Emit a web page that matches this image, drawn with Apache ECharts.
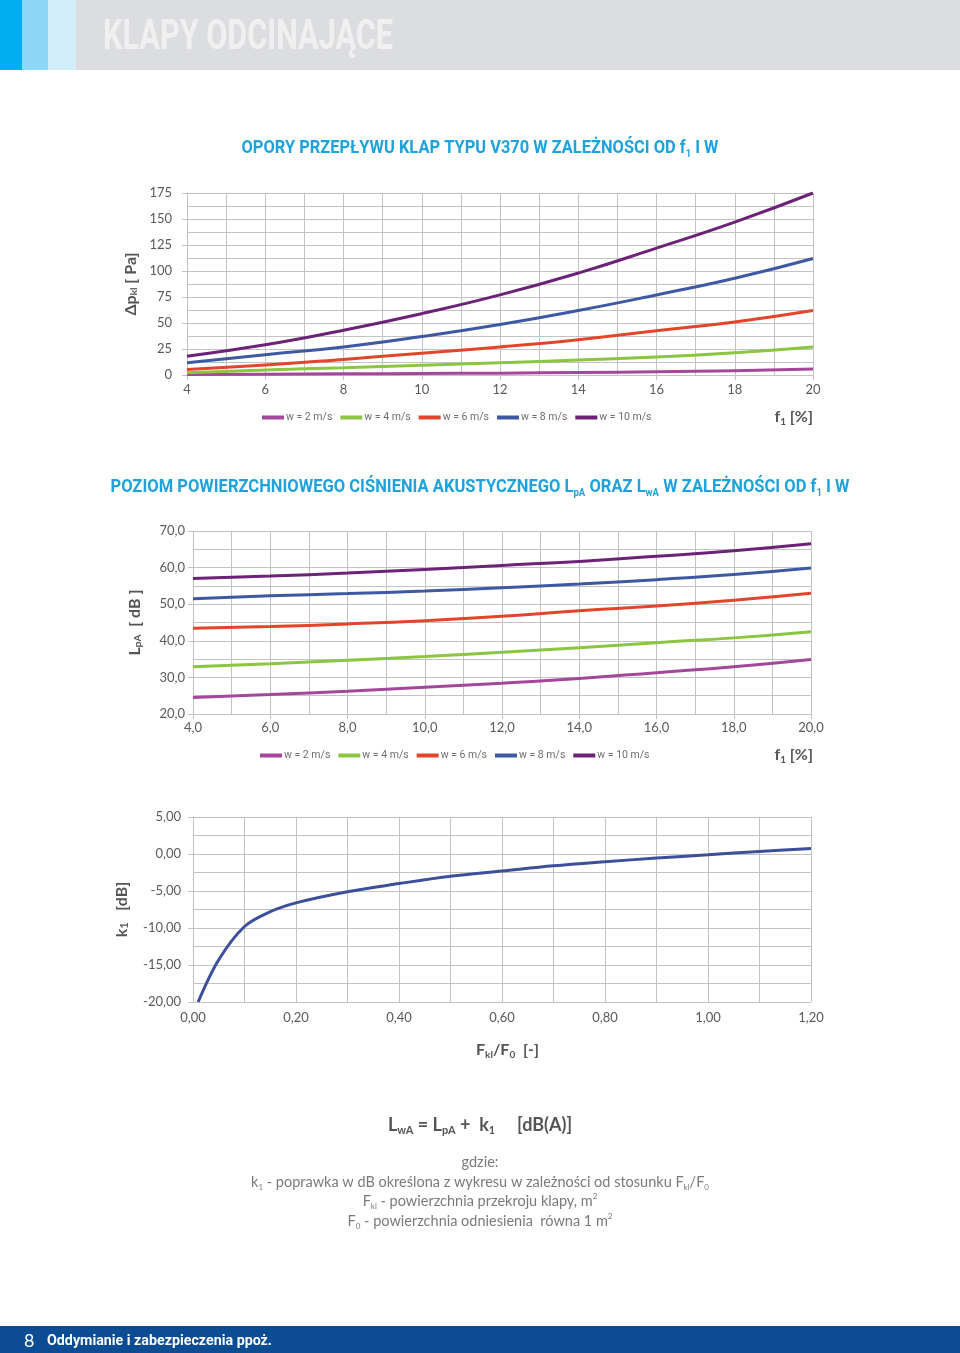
<!DOCTYPE html>
<html>
<head>
<meta charset="utf-8">
<script src="https://cdn.jsdelivr.net/npm/echarts@6/dist/echarts.min.js"></script>
<style>
html,body{margin:0;padding:0;background:#fff;}
#c{width:960px;height:1353px;}
</style>
</head>
<body>
<div id="c"></div>
<script>
// ---------- DATA ----------
var seriesNames = ['w = 2 m/s', 'w = 4 m/s', 'w = 6 m/s', 'w = 8 m/s', 'w = 10 m/s'];
var f1 = [4, 6, 8, 10, 12, 14, 16, 18, 20];

// Chart 1: pressure drop Δp_kl [Pa]
var dp_w2  = [0.6, 0.8, 1.1, 1.4, 1.8, 2.4, 3.1, 4.2, 5.8];
var dp_w4  = [2.2, 4.8, 7.0, 9.3, 11.8, 14.4, 17.2, 21.4, 27.0];
var dp_w6  = [5.4, 9.6, 15.0, 21.0, 27.0, 34.0, 42.5, 51.0, 62.0];
var dp_w8  = [11.8, 19.5, 27.0, 37.0, 48.6, 62.0, 77.0, 93.0, 112.0];
var dp_w10 = [18, 29, 43, 59, 77, 98, 122, 147, 175];

// Chart 2: L_pA [dB]
var lpa_w2  = [24.5, 25.3, 26.2, 27.3, 28.4, 29.7, 31.3, 32.9, 34.9];
var lpa_w4  = [32.9, 33.7, 34.7, 35.7, 36.9, 38.1, 39.5, 40.8, 42.5];
var lpa_w6  = [43.4, 43.9, 44.6, 45.5, 46.7, 48.2, 49.5, 51.1, 53.0];
var lpa_w8  = [51.5, 52.3, 52.9, 53.6, 54.5, 55.5, 56.7, 58.1, 59.9];
var lpa_w10 = [57.0, 57.7, 58.5, 59.5, 60.6, 61.7, 63.1, 64.6, 66.5];

// Chart 3: k1 [dB] vs F_kl/F_0
var ratio = [0.01, 0.05, 0.10, 0.15, 0.20, 0.30, 0.40, 0.50, 0.60, 0.70, 0.80, 0.90, 1.00, 1.10, 1.20];
var k1    = [-20.0, -14.3, -9.8, -7.8, -6.6, -5.1, -4.0, -3.0, -2.3, -1.6, -1.05, -0.55, -0.1, 0.35, 0.75];

var colors = ['#a4479b', '#8cc540', '#e2452a', '#3f58a3', '#6b2277'];

// ---------- HELPERS ----------
function pairs(xs, ys) { return xs.map(function (x, i) { return [x, ys[i]]; }); }
var LBL = '#5a5a5a';
var GRID = '#c3c3c3';
var FONT = 'Lato, "Open Sans", sans-serif';
var CONDF = 'Roboto, "Liberation Sans", sans-serif';
var TITLE_BLUE = '#1ea2dc';

var mctx = document.createElement('canvas').getContext('2d');
function measure(parts) {
  var w = 0;
  parts.forEach(function (p) { mctx.font = p[1]; w += mctx.measureText(p[0]).width; });
  return w;
}

function comma(d) { return function (v) { return v.toFixed(d).replace('.', ','); }; }

function valAxis(idx, min, max, interval, fmt, margin) {
  return {
    type: 'value', gridIndex: idx, min: min, max: max, interval: interval,
    axisLine: { show: true, lineStyle: { color: GRID, width: 1 } },
    axisTick: { show: true, length: 5, lineStyle: { color: GRID } },
    minorTick: { show: false, splitNumber: 2 },
    splitLine: { show: true, lineStyle: { color: GRID, width: 1 } },
    minorSplitLine: { show: true, lineStyle: { color: GRID, width: 1 } },
    axisLabel: { color: LBL, fontFamily: FONT, fontSize: 13, margin: margin, formatter: fmt,
                 showMinLabel: true, showMaxLabel: true }
  };
}

var TS = 19, SS = 11;
var titleFont = 'bold ' + TS + 'px ' + CONDF;
var subFont = 'bold ' + SS + 'px ' + CONDF;
var titleRich = {
  t: { fill: TITLE_BLUE, fontFamily: CONDF, fontWeight: 'bold', fontSize: TS, lineHeight: 24, verticalAlign: 'middle' },
  s: { fill: TITLE_BLUE, fontFamily: CONDF, fontWeight: 'bold', fontSize: SS, lineHeight: 7, verticalAlign: 'bottom' }
};
var title1W = measure([['OPORY PRZEPŁYWU KLAP TYPU V370 W ZALEŻNOŚCI OD f', titleFont], ['1', subFont], [' I W', titleFont]]);
var title2W = measure([['POZIOM POWIERZCHNIOWEGO CIŚNIENIA AKUSTYCZNEGO L', titleFont], ['pA', subFont],
  [' ORAZ L', titleFont], ['wA', subFont], [' W ZALEŻNOŚCI OD f', titleFont], ['1', subFont], [' I W', titleFont]]);
var headFont = 'bold 42px ' + CONDF;
var headW = measure([['KLAPY ODCINAJĄCE', headFont]]);
var footFont = 'bold 15px ' + CONDF;
var footW = measure([['Oddymianie i zabezpieczenia ppoż.', footFont]]);

var lineSeries = [];
var d1 = [dp_w2, dp_w4, dp_w6, dp_w8, dp_w10];
var d2 = [lpa_w2, lpa_w4, lpa_w6, lpa_w8, lpa_w10];
for (var i = 0; i < 5; i++) {
  lineSeries.push({
    name: seriesNames[i], type: 'line', xAxisIndex: 0, yAxisIndex: 0,
    data: pairs(f1, d1[i]), smooth: true, showSymbol: false, symbol: 'none',
    lineStyle: { color: colors[i], width: 3 }, itemStyle: { color: colors[i] }
  });
}
for (var j = 0; j < 5; j++) {
  lineSeries.push({
    name: seriesNames[j], type: 'line', xAxisIndex: 1, yAxisIndex: 1,
    data: pairs(f1, d2[j]), smooth: true, showSymbol: false, symbol: 'none',
    lineStyle: { color: colors[j], width: 3 }, itemStyle: { color: colors[j] }
  });
}
lineSeries.push({
  name: 'k1', type: 'line', xAxisIndex: 2, yAxisIndex: 2,
  data: pairs(ratio, k1), smooth: 0.35, showSymbol: false, symbol: 'none',
  lineStyle: { color: '#3c4f9b', width: 3 }
});

var legendBase = {
  orient: 'horizontal', icon: 'rect', itemWidth: 22, itemHeight: 4, itemGap: 8,
  data: seriesNames, selectedMode: false, padding: 0,
  textStyle: { color: '#6e6e6e', fontFamily: CONDF, fontSize: 10.5, padding: [0, 0, 0, -3] }
};

var subRich = function (big, small, color) {
  return {
    b: { fill: color, fontFamily: FONT, fontSize: big, fontWeight: 'bold', lineHeight: big + 4 },
    s: { fill: color, fontFamily: FONT, fontSize: small, fontWeight: 'bold', lineHeight: 12, verticalAlign: 'bottom' }
  };
};
var plainRich = {
  r: { fill: '#7a7a7a', fontFamily: FONT, fontSize: 14.5, lineHeight: 18 },
  s: { fill: '#7a7a7a', fontFamily: FONT, fontSize: 8, lineHeight: 10, verticalAlign: 'bottom' },
  u: { fill: '#7a7a7a', fontFamily: FONT, fontSize: 8, lineHeight: 10, verticalAlign: 'top' }
};
function ctext(x, y, text, rich, align, extra) {
  var el = { type: 'text', x: x, y: y, style: {
    text: text, rich: rich, align: align || 'center', verticalAlign: 'middle',
    textAlign: align || 'center', textVerticalAlign: 'middle' } };
  if (extra) { for (var k in extra) el[k] = extra[k]; }
  return el;
}

var option = {
  animation: false,
  backgroundColor: '#ffffff',
  grid: [
    { left: 187, width: 626, top: 193, height: 182 },
    { left: 193, width: 618, top: 531, height: 183 },
    { left: 193, width: 618, top: 817, height: 185 }
  ],
  xAxis: [
    valAxis(0, 4, 20, 2, function (v) { return String(v); }, 8),
    valAxis(1, 4, 20, 2, comma(1), 7),
    valAxis(2, 0, 1.2, 0.2, comma(2), 9)
  ],
  yAxis: [
    Object.assign(valAxis(0, 0, 175, 25, function (v) { return String(v); }, 15), {
      name: '{d|Δ}{p|p}{k|kl}{b| [ Pa]}', nameLocation: 'middle', nameRotate: 90, nameGap: 46,
      nameTextStyle: { rich: {
        d: { color: '#555', fontFamily: FONT, fontSize: 16, fontWeight: 'bold' },
        p: { color: '#555', fontFamily: FONT, fontSize: 16, fontWeight: 'bold' },
        k: { color: '#555', fontFamily: FONT, fontSize: 10, fontWeight: 'bold', verticalAlign: 'bottom', lineHeight: 14 },
        b: { color: '#555', fontFamily: FONT, fontSize: 16, fontWeight: 'bold' }
      } }
    }),
    Object.assign(valAxis(1, 20, 70, 10, comma(1), 8), {
      name: '{b|L}{s|pA}{b|  [ dB ]}', nameLocation: 'middle', nameRotate: 90, nameGap: 50,
      nameTextStyle: { rich: {
        b: { color: '#555', fontFamily: FONT, fontSize: 16, fontWeight: 'bold' },
        s: { color: '#555', fontFamily: FONT, fontSize: 10, fontWeight: 'bold', verticalAlign: 'bottom', lineHeight: 12 }
      } }
    }),
    Object.assign(valAxis(2, -20, 5, 5, comma(2), 12), {
      name: '{b|k}{s|1}{b|   [dB]}', nameLocation: 'middle', nameRotate: 90, nameGap: 63,
      nameTextStyle: { rich: {
        b: { color: '#555', fontFamily: FONT, fontSize: 16, fontWeight: 'bold' },
        s: { color: '#555', fontFamily: FONT, fontSize: 11, fontWeight: 'bold', verticalAlign: 'bottom', lineHeight: 14 }
      } }
    })
  ],
  legend: [
    Object.assign({}, legendBase, { left: 262, top: 412 }),
    Object.assign({}, legendBase, { left: 260, top: 750 })
  ],
  series: lineSeries,
  graphic: [
    // header
    { type: 'rect', left: 0, top: 0, shape: { width: 960, height: 70 }, style: { fill: '#dcdde0' } },
    { type: 'rect', left: 0, top: 0, shape: { width: 22, height: 70 }, style: { fill: '#00aeef' } },
    { type: 'rect', left: 22, top: 0, shape: { width: 26, height: 70 }, style: { fill: '#8dd7f7' } },
    { type: 'rect', left: 48, top: 0, shape: { width: 28, height: 70 }, style: { fill: '#d3eefb' } },
    { type: 'text', x: 103, y: 38, scaleX: 290 / headW, style: { text: 'KLAPY ODCINAJĄCE', fill: '#f0f0f0',
      font: headFont, align: 'left', verticalAlign: 'middle', textAlign: 'left', textVerticalAlign: 'middle' } },
    // titles
    ctext(480, 148, '{t|OPORY PRZEPŁYWU KLAP TYPU V370 W ZALEŻNOŚCI OD f}{s|1}{t| I W}', titleRich, 'center',
      { scaleX: 477 / title1W }),
    ctext(480, 487, '{t|POZIOM POWIERZCHNIOWEGO CIŚNIENIA AKUSTYCZNEGO L}{s|pA}{t| ORAZ L}{s|wA}{t| W ZALEŻNOŚCI OD f}{s|1}{t| I W}',
      titleRich, 'center', { scaleX: 739 / title2W }),
    // f1 [%] labels
    ctext(813, 417, '{b|f}{s|1}{b| [%]}', subRich(16, 10, '#555'), 'right'),
    ctext(813, 755, '{b|f}{s|1}{b| [%]}', subRich(16, 10, '#555'), 'right'),
    // chart 3 x axis name
    ctext(476, 1050, '{b|F}{s|kl}{b|/F}{s|0}{b|  [-]}', subRich(16, 10, '#555'), 'left'),
    // formula
    ctext(480, 1125, '{b|L}{s|wA}{b| = L}{s|pA}{b| +  k}{s|1}{b|     [dB(A)]}', subRich(18, 11, '#555'), 'center'),
    { type: 'text', x: 480, y: 1162, style: { text: 'gdzie:', fill: '#7a7a7a', font: '14.5px ' + FONT,
      align: 'center', verticalAlign: 'middle', textAlign: 'center', textVerticalAlign: 'middle' } },
    ctext(480, 1182, '{r|k}{s|1}{r| - poprawka w dB określona z wykresu w zależności od stosunku F}{s|kl}{r|/F}{s|0}', plainRich),
    ctext(480, 1201, '{r|F}{s|kl}{r| - powierzchnia przekroju klapy, m}{u|2}', plainRich),
    ctext(480, 1221, '{r|F}{s|0}{r| - powierzchnia odniesienia  równa 1 m}{u|2}', plainRich),
    // footer
    { type: 'rect', left: 0, top: 1326, shape: { width: 960, height: 27 }, style: { fill: '#0b4c93' } },
    { type: 'text', x: 24, y: 1341, style: { text: '8', fill: '#ffffff', font: '18px ' + FONT,
      align: 'left', verticalAlign: 'middle', textAlign: 'left', textVerticalAlign: 'middle' } },
    { type: 'text', x: 47, y: 1341, scaleX: 225 / footW, style: { text: 'Oddymianie i zabezpieczenia ppoż.', fill: '#ffffff',
      font: footFont, align: 'left', verticalAlign: 'middle', textAlign: 'left', textVerticalAlign: 'middle' } }
  ]
};

var chart = echarts.init(document.getElementById('c'), null, { renderer: 'canvas' });
chart.setOption(option);
</script>
</body>
</html>
